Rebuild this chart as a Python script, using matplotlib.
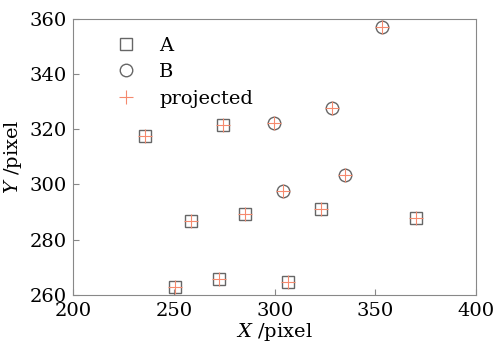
import matplotlib
matplotlib.use("Agg")
import matplotlib.pyplot as plt

plt.rcParams['font.family'] = 'DejaVu Serif'
plt.rcParams['mathtext.fontset'] = 'dejavuserif'

# data
ax_A = [235.7, 274.3, 258.6, 250.3, 272.3, 285.4, 306.8, 322.8, 370.2]
ay_A = [317.6, 321.7, 286.8, 262.8, 265.9, 289.3, 264.8, 291.2, 287.9]
bx_B = [353.0, 328.5, 299.6, 303.9, 335.1]
by_B = [357.2, 327.6, 322.3, 297.6, 303.4]
px = ax_A + bx_B
py = ay_A + by_B

fig, ax = plt.subplots(figsize=(4.95, 3.46), dpi=100)
ax.plot(ax_A, ay_A, 's', ms=8.5, mfc='none', mec='#666666', mew=1.0, label='A', ls='none')
ax.plot(bx_B, by_B, 'o', ms=9, mfc='none', mec='#666666', mew=1.0, label='B', ls='none')
ax.plot(px, py, '+', ms=9.5, color='#f58a6e', mew=0.8, label='projected', ls='none')

ax.set_xlim(200, 400)
ax.set_ylim(260, 360)
ax.set_xticks([200, 250, 300, 350, 400])
ax.set_yticks([260, 280, 300, 320, 340, 360])
ax.tick_params(direction='in', labelsize=14, length=4, color='#888888', pad=5)
for s in ax.spines.values():
    s.set_color('#888888')
ax.set_xlabel(r'$X$ /pixel', fontsize=14, labelpad=1)
ax.set_ylabel(r'$Y$ /pixel', fontsize=14, labelpad=4)

ax.legend(loc='upper left', bbox_to_anchor=(0.04, 1.0), frameon=False, fontsize=14,
          handletextpad=0.7, labelspacing=0.45)

fig.subplots_adjust(left=0.148, right=0.962, top=0.945, bottom=0.148)
fig.savefig('out.png', dpi=100)
